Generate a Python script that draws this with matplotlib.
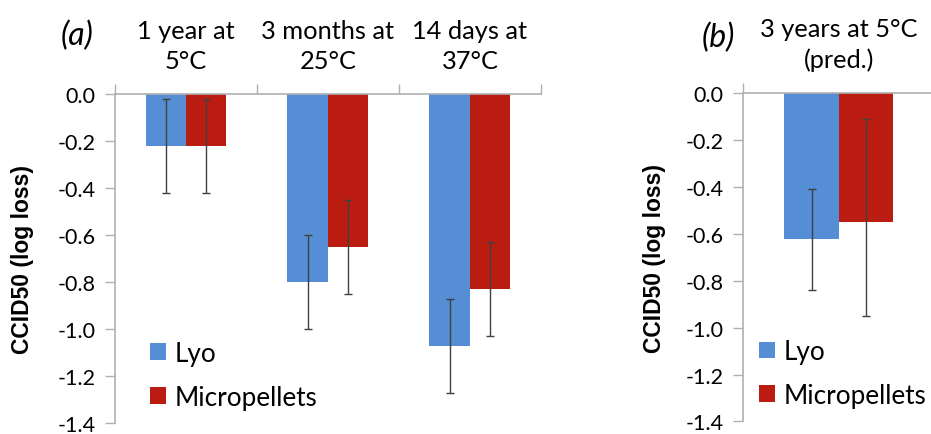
import numpy as np
import matplotlib
matplotlib.use("Agg")
import matplotlib.pyplot as plt

# data
groups_a = ["1 year at\n5°C", "3 months at\n25°C", "14 days at\n37°C"]
lyo_a = [-0.22, -0.80, -1.07]
micro_a = [-0.22, -0.65, -0.83]
lyo_a_err = [0.20, 0.20, 0.20]
micro_a_err = [0.20, 0.20, 0.20]

groups_b = ["3 years at 5°C\n(pred.)"]
lyo_b = [-0.62]
micro_b = [-0.55]
# asymmetric errors: (below, above)
lyo_b_err = ([0.22], [0.21])
micro_b_err = ([0.40], [0.44])

yticks = [0.0, -0.2, -0.4, -0.6, -0.8, -1.0, -1.2, -1.4]

blue = "#558ED5"
red = "#BA1C12"
grey = "#B0B0B0"
font = "Lato"

plt.rcParams['font.family'] = [font, 'DejaVu Sans']


def draw_panel(ax, cats, lyo, micro, lyo_err, micro_err, tag, tag_xy, ylab_x, leg_xy):
    x = np.arange(len(cats))
    w = 0.285
    ekw = dict(ecolor="#404040", elinewidth=1.0, capsize=3, capthick=1.0)
    ax.bar(x - w / 2, lyo, w, color=blue, label="Lyo", yerr=lyo_err, error_kw=ekw)
    ax.bar(x + w / 2, micro, w, color=red, label="Micropellets", yerr=micro_err, error_kw=ekw)

    ax.set_xlim(-0.5, len(cats) - 0.5)
    ax.set_ylim(-1.4, 0)
    ax.set_yticks(yticks)
    ax.set_yticklabels(["%.1f" % v for v in yticks], fontsize=15.5)

    # axis line at y=0 (top), with boundary ticks pointing up
    ax.xaxis.tick_top()
    ax.set_xticks(np.arange(len(cats) + 1) - 0.5)
    ax.set_xticklabels([])
    ax.set_xticks(x, minor=True)
    ax.set_xticklabels(cats, minor=True, fontsize=18.3, linespacing=1.4)
    ax.tick_params(axis="x", which="major", length=7, color=grey, width=1)
    ax.tick_params(axis="x", which="minor", length=0, pad=16)
    ax.tick_params(axis="y", length=7, color=grey, width=1, pad=7)

    for s in ["right", "bottom"]:
        ax.spines[s].set_visible(False)
    for s in ["left", "top"]:
        ax.spines[s].set_color(grey)
        ax.spines[s].set_linewidth(1.2)

    ax.set_ylabel("CCID50 (log loss)", fontsize=16.5, fontweight="bold",
                  family="Liberation Sans")
    ax.yaxis.set_label_coords(ylab_x, 0.5)
    ax.figure.text(tag_xy[0], tag_xy[1], tag, fontsize=23, style="italic",
                   ha="center", va="center")

    ax.legend(loc="upper left", bbox_to_anchor=leg_xy, frameon=False,
              fontsize=18.8, handlelength=0.6, handleheight=0.6,
              handletextpad=0.35, labelspacing=0.72, borderpad=0,
              borderaxespad=0)


fig = plt.figure(figsize=(9.31, 4.35), dpi=100)
ax_a = fig.add_axes([0.1235, 0.025, 0.4575, 0.7555])
ax_b = fig.add_axes([0.798, 0.029, 0.206, 0.754])

draw_panel(ax_a, groups_a, lyo_a, micro_a, lyo_a_err, micro_a_err,
           "(a)", (0.083, 0.917), -0.19, (0.082, 0.25))
draw_panel(ax_b, groups_b, lyo_b, micro_b, lyo_b_err, micro_b_err,
           "(b)", (0.772, 0.913), -0.40, (0.083, 0.251))

fig.savefig("out.png", dpi=100)
